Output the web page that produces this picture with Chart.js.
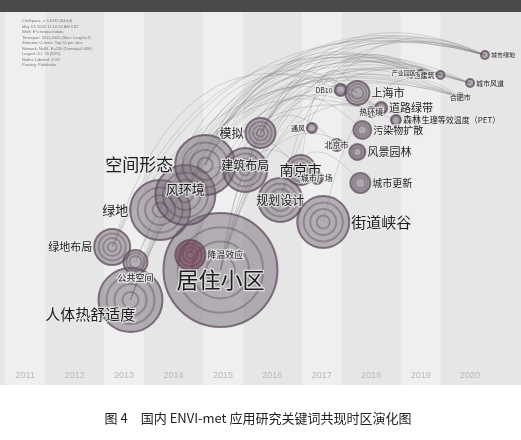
<!DOCTYPE html>
<html><head><meta charset="utf-8">
<script src="https://cdn.jsdelivr.net/npm/chart.js@4"></script>
<style>body{margin:0;background:#fff}#wrap{width:521px;height:440px}</style>
</head><body><div id="wrap"><canvas id="c"></canvas></div>
<script>
// keywords, first-appearance year, vertical slot, frequency-ish size, label size, label side
const names = ['居住小区','降温效应','人体热舒适度','绿地布局','公共空间','绿地','风环境','空间形态','建筑布局','模拟','规划设计','街道峡谷','南京市','城市更新','风景园林','污染物扩散','上海市','DB10','道路绿带','热环境','森林生态学','生理等效温度（PET）','北京市','城市广场','通风','城市绿地','合肥市','绿色建筑','城市风道','产业园区'];
const years = [2014.95,2014.34,2013.13,2012.76,2013.23,2013.73,2014.24,2014.64,2015.45,2015.76,2016.16,2017.03,2016.57,2017.78,2017.72,2017.82,2017.72,2017.38,2018.2,2018.0,2018.5,2018.9,2017.3,2016.9,2016.8,2020.3,2019.8,2019.4,2020.0,2019.0];
const slots = [270,255,300,247,262,210,195,165,170,133,200,222,170,183,152,130,93,90,108,112,120,120,145,178,128,55,97,75,83,73];
const sizes = [57,15,32,18,12,30,30,30,22,15,22,26,15,10,8,9,12,6,6,5,5,4,6,6,5,4,4,4,4,3];
const fonts = [22,9,15,11,9,13,13,17,12,12,12,15,14,10,11,10,11,7,11,8,9,8,8,8,7,6,7,7,7,6];
const sides = ['c','r','L','l','b','l','t','l','t','l','c','r','c','r','r','r','r','l','r','c','r','r','c','c','l','r','c','l','r','l'];
const tickYears = [2011,2012,2013,2014,2015,2016,2017,2018,2019,2020];
const links = [[0,25],[0,16],[2,25],[7,25],[5,26],[6,27],[9,28],[8,25],[10,29],[3,25],[4,28],[11,26],[12,16],[7,16],[0,21],[6,18],[5,25],[9,26],[2,27],[0,12],[10,13],[7,12],[6,11],[0,14],[8,22],[9,15],[1,19],[3,17],[5,20],[7,29],[2,28],[6,25],[0,27],[0,28],[2,26],[2,29],[5,28],[5,27],[6,26],[6,29],[7,26],[7,27],[7,28],[3,26],[3,29],[4,25],[8,26],[8,27],[9,25],[10,25],[1,25],[1,28],[0,18],[2,21],[5,16]];

const decor = {
  id:'decor',
  beforeDraw(ch){
    const c=ch.ctx, x=ch.scales.x;
    c.save();
    c.fillStyle='#e6e6e6'; c.fillRect(0,12,521,373);
    tickYears.forEach((t,i)=>{ if(i%2==0){c.fillStyle='#efefef'; c.fillRect(x.getPixelForValue(t)-20,12,40,373);} });
    c.fillStyle='#4a4a4a'; c.fillRect(0,0,521,12);
    c.fillStyle='#777'; c.font='4px sans-serif';
    ['CiteSpace, v. 5.6.R2 (64-bit)','May 13, 2020 11:16:52 AM CST','WoS: E:\\citespace\\data','Timespan: 2011-2020 (Slice Length=1)','Selection Criteria: Top 50 per slice','Network: N=84, E=230 (Density=0.066)','Largest CC: 70 (83%)','Nodes Labeled: 3.0%','Pruning: Pathfinder'].forEach((s,i)=>c.fillText(s,22,22+i*5.5));
    const sx=ch.scales.x, sy=ch.scales.y;
    c.strokeStyle='rgba(110,110,110,0.3)'; c.lineWidth=0.8;
    links.forEach(([a,b])=>{
      const x1=sx.getPixelForValue(years[a]),y1=sy.getPixelForValue(slots[a]),x2=sx.getPixelForValue(years[b]),y2=sy.getPixelForValue(slots[b]);
      c.beginPath(); c.moveTo(x1,y1); c.quadraticCurveTo(x1+(x2-x1)*0.3,Math.min(y1,y2)-70,x2,y2); c.stroke();
    });
    c.restore();
  },
  afterDatasetsDraw(ch){
    const c=ch.ctx, sx=ch.scales.x, sy=ch.scales.y;
    c.save();
    names.forEach((n,i)=>{
      const px=sx.getPixelForValue(years[i]),py=sy.getPixelForValue(slots[i]);
      c.strokeStyle='rgba(80,60,80,0.35)';
      for(let r=sizes[i]*0.75;r>3;r-=sizes[i]*0.25){c.beginPath();c.arc(px,py,r,0,7);c.stroke();}
    });
    names.forEach((n,i)=>{
      const px=sx.getPixelForValue(years[i]),py=sy.getPixelForValue(slots[i]),r=sizes[i];
      c.font=`${fonts[i]}px "Noto Sans CJK SC"`; c.fillStyle='#1e1e1e'; c.textBaseline='middle';
      let tx=px,ty=py,al='center';
      if(sides[i]=='r'){tx=px+r+2;al='left';}
      if(sides[i]=='l'){tx=px-r-2;al='right';}
      if(sides[i]=='L'){tx=px+r*0.15;ty=py+r*0.45;al='right';}
      if(sides[i]=='t'){ty=py-r*0.2;}
      if(sides[i]=='b'){ty=py+r+4;}
      if(sides[i]=='c'&&i==0){ty=py+10;}
      c.textAlign=al;
      c.lineWidth=2.5;c.strokeStyle='rgba(235,235,235,0.8)';c.strokeText(n,tx,ty);c.fillText(n,tx,ty);
    });
    c.fillStyle='#bbb';c.font='9px sans-serif';c.textAlign='center';c.textBaseline='middle';
    tickYears.forEach(t=>c.fillText(t,sx.getPixelForValue(t),376));
    c.fillStyle='#222';c.font='13px "Noto Sans CJK SC"';
    c.fillText('图 4　国内 ENVI-met 应用研究关键词共现时区演化图',258,418);
    c.restore();
  }
};

new Chart(document.getElementById('c'),{
  type:'bubble',
  data:{datasets:[{
    data:names.map((n,i)=>({x:years[i],y:slots[i],r:sizes[i]})),
    backgroundColor:names.map((n,i)=>i==1?'rgba(120,60,80,0.6)':'rgba(120,110,120,0.5)'),
    borderColor:'rgba(95,75,95,0.75)',borderWidth:2,clip:false
  }]},
  options:{
    responsive:true,maintainAspectRatio:false,animation:false,
    layout:{autoPadding:false,padding:{top:15,bottom:55,left:0,right:0}},
    plugins:{legend:{display:false},tooltip:{enabled:false}},
    scales:{
      x:{type:'linear',min:2010.49,max:2021.03,display:false},
      y:{type:'linear',min:15,max:385,reverse:true,display:false}
    }
  },
  plugins:[decor]
});
</script></body></html>
